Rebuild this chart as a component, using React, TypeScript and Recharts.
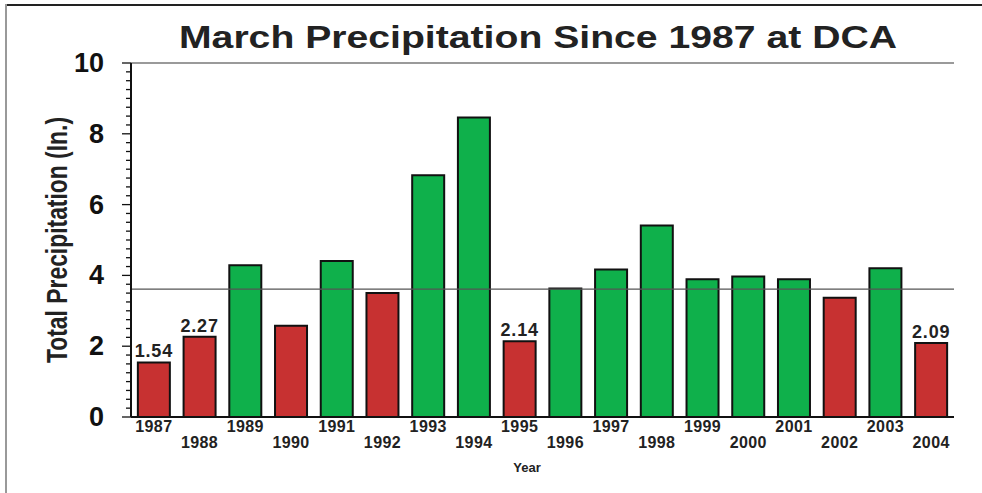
import React from "react";
import { BarChart, Bar, XAxis, YAxis, ReferenceLine, Cell, LabelList, Label } from "recharts";

const years = ["1987", "1988", "1989", "1990", "1991", "1992", "1993", "1994", "1995", "1996", "1997", "1998", "1999", "2000", "2001", "2002", "2003", "2004"];
const precip = [1.54, 2.27, 4.29, 2.58, 4.41, 3.5, 6.83, 8.46, 2.14, 3.63, 4.17, 5.41, 3.89, 3.97, 3.89, 3.37, 4.2, 2.09];
const labeledYears = ["1987", "1988", "1995", "2004"];
const normalValue = 3.61;
const yMajorTicks = [0, 2, 4, 6, 8, 10];
const yMinorTicks = [0, 0.25, 0.5, 0.75, 1, 1.25, 1.5, 1.75, 2, 2.25, 2.5, 2.75, 3, 3.25, 3.5, 3.75, 4, 4.25, 4.5, 4.75, 5, 5.25, 5.5, 5.75, 6, 6.25, 6.5, 6.75, 7, 7.25, 7.5, 7.75, 8, 8.25, 8.5, 8.75, 9, 9.25, 9.5, 9.75, 10];

const RED = "#c73131";
const GREEN = "#0fb04b";
const FONT = "'Liberation Sans', Arial, Helvetica, sans-serif";

const data = years.map((y, i) => ({
  year: y,
  value: precip[i],
  label: labeledYears.includes(y) ? precip[i].toFixed(2) : "",
}));

const YTick = (props: any) => {
  const { x, y, payload } = props;
  const v = payload.value;
  const major = yMajorTicks.includes(v);
  return (
    <g>
      <line x1={x - (major ? 9 : 5)} x2={x} y1={y} y2={y} stroke="#111" strokeWidth={1.3} />
      {major && (
        <text x={x - 27} y={y + 9} textAnchor="end" fontSize={27} fontWeight="bold" fill="#111" fontFamily={FONT}>
          {v}
        </text>
      )}
    </g>
  );
};

const XTick = (props: any) => {
  const { x, y, payload, index } = props;
  const lower = index % 2 === 1;
  return (
    <text x={x} y={y + (lower ? 31 : 15)} textAnchor="middle" fontSize={16} fontWeight="bold" fill="#222" fontFamily={FONT} letterSpacing={0.4}>
      {payload.value}
    </text>
  );
};

const BarLabel = (props: any) => {
  const { x, y, width, value } = props;
  if (!value) return null;
  return (
    <text x={x + width / 2} y={y - 5} textAnchor="middle" fontSize={18} fontWeight="bold" fill="#222" fontFamily={FONT} letterSpacing={0.8}>
      {value}
    </text>
  );
};

export default function App() {
  return (
    <div style={{ position: "absolute", left: 0, top: 0, width: 982, height: 493, background: "#fff" }}>
      <div style={{ position: "absolute", left: 6, top: 4, width: 976, height: 2, background: "#222" }} />
      <div style={{ position: "absolute", left: 5, top: 4, width: 2, height: 489, background: "#999" }} />
      <svg style={{ position: "absolute", left: 0, top: 0 }} width={982} height={60}>
        <text x={538} y={48} textAnchor="middle" fontSize={31} fontWeight="bold" fill="#222" fontFamily={FONT} textLength={718} lengthAdjust="spacingAndGlyphs">
          March Precipitation Since 1987 at DCA
        </text>
      </svg>
      <div style={{ position: "absolute", left: 0, top: 0 }}>
        <BarChart width={982} height={493} data={data} margin={{ top: 63, right: 28, bottom: 0, left: 0 }} barCategoryGap="15%">
          <XAxis
            dataKey="year"
            interval={0}
            tickLine={false}
            tickSize={0}
            tickMargin={0}
            axisLine={{ stroke: "#111", strokeWidth: 2 }}
            tick={<XTick />}
            height={76}
          >
            <Label
              content={() => (
                <text x={527} y={472} textAnchor="middle" fontSize={13} fontWeight="bold" fill="#222" fontFamily={FONT}>
                  Year
                </text>
              )}
            />
          </XAxis>
          <YAxis
            width={131}
            domain={[0, 10]}
            ticks={yMinorTicks}
            interval={0}
            tickLine={false}
            tickSize={0}
            tickMargin={0}
            axisLine={{ stroke: "#111", strokeWidth: 2 }}
            tick={<YTick />}
          >
            <Label
              content={() => (
                <text
                  x={0}
                  y={0}
                  transform="translate(67,240) rotate(-90)"
                  textAnchor="middle"
                  fontSize={29}
                  fontWeight="bold"
                  fill="#222"
                  fontFamily={FONT}
                  textLength={246}
                  lengthAdjust="spacingAndGlyphs"
                >
                  Total Precipitation (In.)
                </text>
              )}
            />
          </YAxis>
          <YAxis yAxisId="right" orientation="right" width={0} domain={[0, 10]} tick={false} tickLine={false} axisLine={{ stroke: "#9a9a9a", strokeWidth: 2 }} />
          <ReferenceLine y={10} stroke="#9a9a9a" strokeWidth={2} />
          <ReferenceLine y={normalValue} stroke="#555" strokeWidth={1.2} />
          <Bar dataKey="value" isAnimationActive={false} stroke="#111" strokeWidth={2}>
            {data.map((d, i) => (
              <Cell key={i} fill={d.value >= normalValue ? GREEN : RED} />
            ))}
            <LabelList dataKey="label" content={<BarLabel />} />
          </Bar>
        </BarChart>
      </div>
    </div>
  );
}
